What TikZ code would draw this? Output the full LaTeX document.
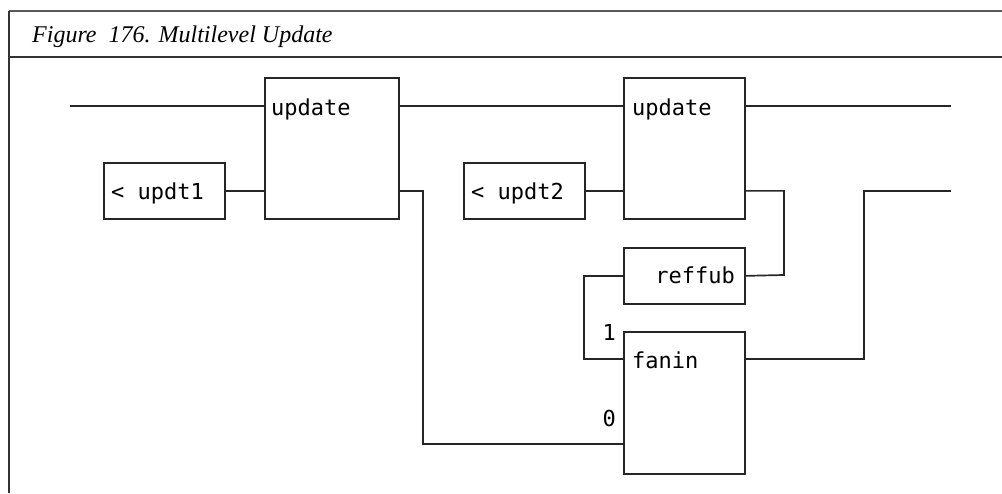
\documentclass[tikz,border=0pt]{standalone}
\usepackage{fontspec}
\setmainfont{Liberation Serif}
\newfontfamily\codefont{DejaVu Sans Mono}
\begin{document}
\begin{tikzpicture}[x=1pt,y=-1pt,
  wire/.style={line width=1.7pt, draw=black!85},
  blk/.style={draw=black!85, line width=1.7pt, rectangle, anchor=north west, inner sep=0pt},
  code/.style={font=\codefont\fontsize{22}{26}\selectfont, inner sep=0pt, anchor=base west},
  rule/.style={line width=1.8pt, draw=black!80}]
\useasboundingbox (0,0) rectangle (1002,493);

% frame and caption
\draw[rule, draw=black!65, line width=1.4pt] (9,11) -- (1002,11);
\draw[rule] (9,57) -- (1002,57);
\draw[rule] (9,11) -- (9,493);
\node[font=\itshape\fontsize{24}{28}\selectfont, anchor=base west, inner sep=0pt] (title) at (32,42) {Figure\ \ 176. Multilevel Update};

% blocks
\node[blk, minimum width=134pt, minimum height=141pt] (upd1) at (264,77) {};
\node[blk, minimum width=121pt, minimum height=141pt] (upd2) at (623,77) {};
\node[blk, minimum width=121pt, minimum height=56pt] (u1) at (103,162) {};
\node[blk, minimum width=121pt, minimum height=56pt] (u2) at (463,162) {};
\node[blk, minimum width=121pt, minimum height=56pt] (reffub) at (623,247) {};
\node[blk, minimum width=121pt, minimum height=142pt] (fanin) at (623,331) {};

% block texts
\node[code] (t1) at (271,115) {update};
\node[code] (t2) at (632,115) {update};
\node[code] (t3) at (111,199) {< updt1};
\node[code] (t4) at (471,199) {< updt2};
\node[code, anchor=base east] (t5) at (735,283) {reffub};
\node[code] (t6) at (632,368) {fanin};
\node[code, anchor=base east] (p1) at (616,340) {1};
\node[code, anchor=base east] (p0) at (616,426) {0};

% free ends and bends
\coordinate (in1) at (70,106);
\coordinate (out1) at (951,106);
\coordinate (out2) at (951,191);
\coordinate (k1) at (423,444);
\coordinate (k2) at (784,275);
\coordinate (k3) at (584,359);
\coordinate (k4) at (864,359);

% connectors
\draw[wire] (in1) -- (in1 -| upd1.west);
\draw[wire] (in1 -| upd1.east) -- (in1 -| upd2.west);
\draw[wire] (in1 -| upd2.east) -- (out1);
\draw[wire] (u1.east) -- (u1.east -| upd1.west);
\draw[wire] (u2.east) -- (u2.east -| upd2.west);
\draw[wire] (u1.east -| upd1.east) -| (k1) -- (k1 -| fanin.west);
\draw[wire] (u2.east -| upd2.east) -| (k2) -- (reffub.east);
\draw[wire] (reffub.west) -| (k3) -- (k3 -| fanin.west);
\draw[wire] (k4 -| fanin.east) -- (k4) |- (out2);
\end{tikzpicture}
\end{document}
